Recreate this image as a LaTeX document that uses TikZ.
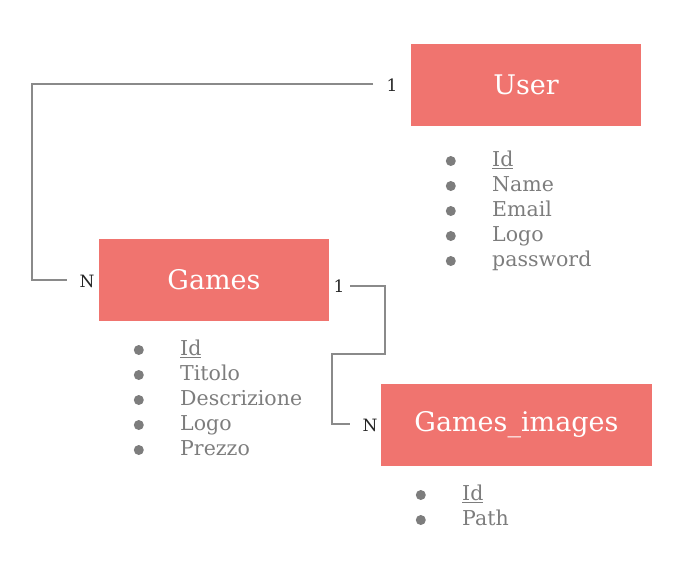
\documentclass[tikz,border=0pt]{standalone}
\usepackage{fontspec}
\setmainfont{DejaVu Serif}
\usepackage{xcolor}
\usetikzlibrary{positioning}

\definecolor{boxred}{RGB}{240,116,111}
\definecolor{txtgray}{RGB}{125,125,125}
\definecolor{linegray}{RGB}{138,138,138}

\tikzset{
    entity/.style={rectangle, fill=boxred, text=white, minimum width=230pt, minimum height=82pt, inner sep=0pt, font=\fontsize{27}{27}\selectfont},
    attr/.style={anchor=west, inner sep=0pt, text=txtgray, text height=15pt, text depth=4pt, font=\fontsize{20.5}{20.5}\selectfont, label={[dot, xshift=-36pt]left:{}}},
    dot/.style={circle, fill=txtgray, minimum size=10pt, inner sep=0pt},
    card/.style={text=black!85, font=\fontsize{17}{17}\selectfont, inner sep=0pt},
    link/.style={draw=linegray, line width=1.2pt}
}

\begin{document}
\begin{tikzpicture}[x=1pt, y=-1pt]
                        \useasboundingbox (0,0) rectangle (697,574);
                        % entities
                        \node[entity] (user) at (526, 85) {User};
                        \node[entity] (games) at (214, 280) {Games};
                        \node[entity, minimum width=271pt] (images) at (516.5, 425) {Games\_images};
                        % attributes of User
                        \node[attr] (uid) at (492, 161) {\underline{Id}};
                        \node[attr] (uname) at (492, 186) {Name};
                        \node[attr] (umail) at (492, 211) {Email};
                        \node[attr] (ulogo) at (492, 236) {Logo};
                        \node[attr] (upass) at (492, 261) {password};
                        % attributes of Games
                        \node[attr] (gid) at (180, 350) {\underline{Id}};
                        \node[attr] (gtit) at (180, 375) {Titolo};
                        \node[attr] (gdesc) at (180, 400) {Descrizione};
                        \node[attr] (glogo) at (180, 425) {Logo};
                        \node[attr] (gprice) at (180, 450) {Prezzo};
                        % attributes of Games_images
                        \node[attr] (iid) at (462, 495) {\underline{Id}};
                        \node[attr] (ipath) at (462, 520) {Path};
                        % cardinalities
                        \node[card] (user1) at (392, 85) {1};
                        \node[card] (gamesN) at (87, 281) {N};
                        \node[card] (games1) at (339, 286) {1};
                        \node[card] (imagesN) at (370, 425) {N};
                        \coordinate (u1) at (373, 84);
                        \coordinate (gN) at (67, 280);
                        \coordinate (g1) at (350, 286);
                        \coordinate (iN) at (350, 424);
                        % relations
                        \draw[link] (u1) -- (32, 84) |- (gN);
                        \draw[link] (g1) -| (385, 354) -| (332, 424) -- (iN);
                    \end{tikzpicture}
\end{document}
